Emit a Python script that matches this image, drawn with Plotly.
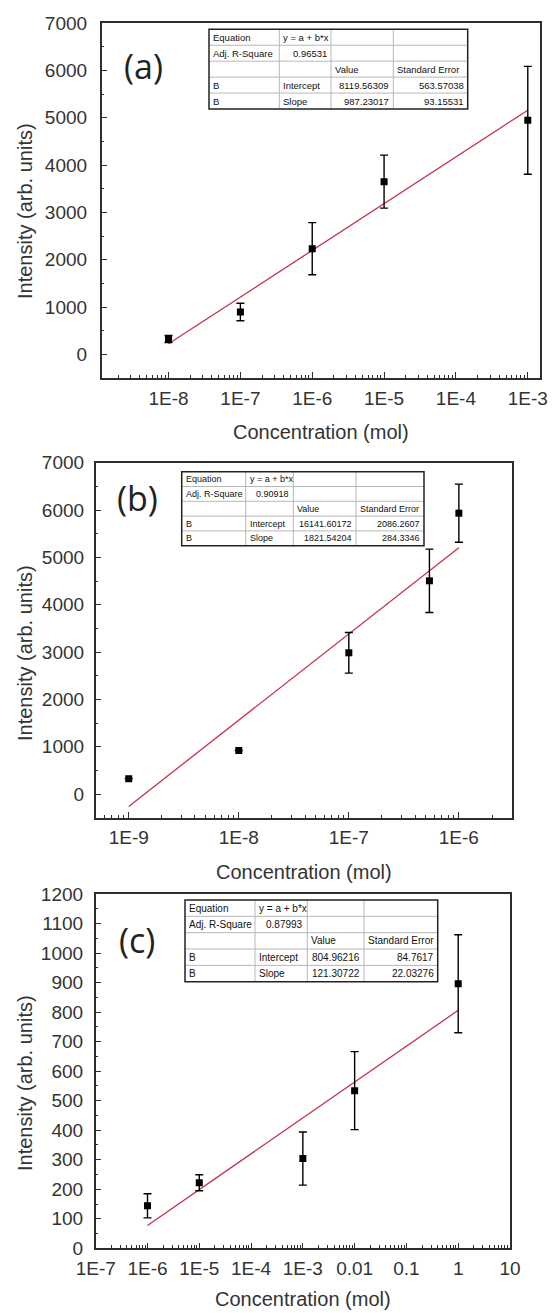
import plotly.graph_objects as go

# ---------------- data ----------------
A_X = [1e-8, 1e-7, 1e-6, 1e-5, 1e-3]
A_Y = [324, 894, 2232, 3648, 4944]
A_ERR = [75, 185, 550, 560, 1140]
A_FIT_X = [1e-8, 1e-3]
A_FIT_Y = [222, 5158]

B_X = [1e-9, 1e-8, 1e-7, 5.4e-7, 1e-6]
B_Y = [325, 919, 2984, 4505, 5933]
B_ERR = [0, 0, 430, 670, 615]
B_FIT_X = [1e-9, 1e-6]
B_FIT_Y = [-262, 5205]

C_X = [1e-6, 1e-5, 1e-3, 1e-2, 1]
C_Y = [144, 222, 304, 534, 896]
C_ERR = [41, 27, 90, 132, 166]
C_FIT_X = [1e-6, 1]
C_FIT_Y = [77, 806]

A_TICKVALS = [1e-8, 1e-7, 1e-6, 1e-5, 1e-4, 1e-3]
A_TICKTEXT = ["1E-8", "1E-7", "1E-6", "1E-5", "1E-4", "1E-3"]
B_TICKVALS = [1e-9, 1e-8, 1e-7, 1e-6]
B_TICKTEXT = ["1E-9", "1E-8", "1E-7", "1E-6"]
C_TICKVALS = [1e-7, 1e-6, 1e-5, 1e-4, 1e-3, 1e-2, 1e-1, 1, 10]
C_TICKTEXT = ["1E-7", "1E-6", "1E-5", "1E-4", "1E-3", "0.01", "0.1", "1", "10"]

TABLE_A = [["Equation", "y = a + b*x", "", ""],
           ["Adj. R-Square", "0.96531", "", ""],
           ["", "", "Value", "Standard Error"],
           ["B", "Intercept", "8119.56309", "563.57038"],
           ["B", "Slope", "987.23017", "93.15531"]]
TABLE_B = [["Equation", "y = a + b*x", "", ""],
           ["Adj. R-Square", "0.90918", "", ""],
           ["", "", "Value", "Standard Error"],
           ["B", "Intercept", "16141.60172", "2086.2607"],
           ["B", "Slope", "1821.54204", "284.3346"]]
TABLE_C = [["Equation", "y = a + b*x", "", ""],
           ["Adj. R-Square", "0.87993", "", ""],
           ["", "", "Value", "Standard Error"],
           ["B", "Intercept", "804.96216", "84.7617"],
           ["B", "Slope", "121.30722", "22.03276"]]
# alignment of each cell: l = left, r = right
TABLE_ALIGN = [["l", "l", "l", "l"],
               ["l", "r", "l", "l"],
               ["l", "l", "l", "l"],
               ["l", "l", "r", "r"],
               ["l", "l", "r", "r"]]

X_TITLE = "Concentration (mol)"
Y_TITLE = "Intensity (arb. units)"
LABELS = ["(a)", "(b)", "(c)"]

# ---------------- geometry (reference pixels) ----------------
W, H = 552, 1313


def px(x):
    return x / W


def py(y):
    return 1 - y / H


# plot boxes: left, right, top, bottom
BOXES = [(101.7, 540.0, 23.0, 378.0),
         (95.7, 511.7, 462.7, 817.7),
         (95.7, 510.0, 894.0, 1248.3)]

TEXT = "#333333"
AXC = "#2e2e2e"
FONT = "Liberation Sans, Arial, sans-serif"
RED = "#c63247"

fig = go.Figure()

series = [(A_X, A_Y, A_ERR, A_FIT_X, A_FIT_Y),
          (B_X, B_Y, B_ERR, B_FIT_X, B_FIT_Y),
          (C_X, C_Y, C_ERR, C_FIT_X, C_FIT_Y)]

for i, (xs, ys, es, fx, fy) in enumerate(series):
    xa = "x" if i == 0 else f"x{i+1}"
    ya = "y" if i == 0 else f"y{i+1}"
    fig.add_trace(go.Scatter(x=fx, y=fy, mode="lines", xaxis=xa, yaxis=ya,
                             line=dict(color=RED, width=1.3), showlegend=False,
                             hoverinfo="skip"))
    fig.add_trace(go.Scatter(x=xs, y=ys, mode="markers", xaxis=xa, yaxis=ya,
                             marker=dict(symbol="square", size=7, color="black"),
                             error_y=dict(type="data", array=es, color="black",
                                          thickness=1.4, width=4),
                             showlegend=False))
    # empty trace that carries the overlaying minor-tick x axis
    fig.add_trace(go.Scatter(x=[], y=[], xaxis=f"x{i+4}", yaxis=ya, mode="markers",
                             showlegend=False, hoverinfo="skip"))


def minor_vals(lo, hi):
    vals = []
    for d in range(lo, hi + 1):
        for k in range(2, 10):
            vals.append(k * 10.0 ** d)
    return vals


xranges = [[-8.93, -2.83], [-9.30, -5.52], [-7.0, 1.0]]
xticks = [(A_TICKVALS, A_TICKTEXT), (B_TICKVALS, B_TICKTEXT), (C_TICKVALS, C_TICKTEXT)]
xminors = [minor_vals(-9, -3), minor_vals(-10, -6), minor_vals(-7, 0)]
yranges = [[-500, 7000], [-500, 7000], [0, 1200]]
ydticks = [(1000, 500), (1000, 500), (100, 50)]
ystand = [9, 6, 7]

axis_common = dict(showgrid=False, zeroline=False, showline=True, linecolor=AXC,
                   linewidth=1.5, mirror=True, ticks="inside", ticklen=6,
                   tickwidth=1.2, tickcolor=AXC, automargin=False,
                   ticklabeloverflow="allow",
                   tickfont=dict(family=FONT, size=19, color=TEXT))

layout = dict(width=W, height=H,
              margin=dict(l=0, r=0, t=0, b=0, pad=0, autoexpand=False),
              paper_bgcolor="white", plot_bgcolor="white", showlegend=False)

for i in range(3):
    l, r, t, b = BOXES[i]
    xk = "xaxis" if i == 0 else f"xaxis{i+1}"
    yk = "yaxis" if i == 0 else f"yaxis{i+1}"
    ya = "y" if i == 0 else f"y{i+1}"
    xa = "x" if i == 0 else f"x{i+1}"
    layout[xk] = dict(axis_common, type="log", range=xranges[i], domain=[px(l), px(r)],
                      anchor=ya, tickmode="array", tickvals=xticks[i][0],
                      ticktext=xticks[i][1], ticklabelstandoff=2)
    layout[f"xaxis{i+4}"] = dict(type="log", range=xranges[i], domain=[px(l), px(r)],
                                 anchor=ya, overlaying=xa, side="bottom",
                                 showgrid=False, zeroline=False, showline=False,
                                 showticklabels=False, automargin=False,
                                 tickmode="array", tickvals=xminors[i], ticks="inside",
                                 ticklen=3, tickwidth=1, tickcolor=AXC)
    layout[yk] = dict(axis_common, range=yranges[i], domain=[py(b), py(t)], anchor=xa,
                      tick0=0, dtick=ydticks[i][0], ticklabelstandoff=ystand[i],
                      minor=dict(dtick=ydticks[i][1], tick0=0, ticks="inside",
                                 ticklen=3, tickwidth=1, tickcolor=AXC))

fig.update_layout(**layout)

# axis titles and panel labels
XT_POS = [(320.8, 431.7), (303.7, 871.7), (303.0, 1299.0)]
YT_POS = [(25.0, 211.0), (25.0, 653.0), (25.0, 1083.0)]
LB_POS = [(143.0, 66.0), (137.5, 497.5), (137.0, 940.0)]
annotations = []
for i in range(3):
    annotations.append(dict(x=px(XT_POS[i][0]), y=py(XT_POS[i][1]), xref="paper", yref="paper",
                            text=X_TITLE, showarrow=False, xanchor="center", yanchor="middle",
                            font=dict(family=FONT, size=20, color=TEXT)))
    annotations.append(dict(x=px(YT_POS[i][0]), y=py(YT_POS[i][1]), xref="paper", yref="paper",
                            text=Y_TITLE, showarrow=False, textangle=-90,
                            xanchor="center", yanchor="middle",
                            font=dict(family=FONT, size=20, color=TEXT)))
    annotations.append(dict(x=px(LB_POS[i][0]), y=py(LB_POS[i][1]), xref="paper", yref="paper",
                            text=LABELS[i], showarrow=False, xanchor="center", yanchor="middle",
                            font=dict(family="Open Sans, sans-serif", size=34, color="#222222")))

# fit-result tables
TABLES = [TABLE_A, TABLE_B, TABLE_C]
T_COLS = [[209.0, 279.3, 331.0, 393.3, 467.7],
          [181.7, 245.7, 293.3, 356.0, 424.0],
          [185.0, 255.0, 307.3, 364.0, 437.7]]
T_ROWS = [(29.3, 109.0), (471.7, 545.7), (900.0, 981.7)]
T_FONT = [9.5, 9, 10]
shapes = []
for ti, tab in enumerate(TABLES):
    cols = T_COLS[ti]
    top, bot = T_ROWS[ti]
    nrow = len(tab)
    rh = (bot - top) / nrow
    shapes.append(dict(type="rect", xref="paper", yref="paper",
                       x0=px(cols[0]), x1=px(cols[-1]), y0=py(bot), y1=py(top),
                       fillcolor="white", line=dict(width=0), layer="above"))
    for k in range(1, nrow):
        yy = py(top + k * rh)
        shapes.append(dict(type="line", xref="paper", yref="paper",
                           x0=px(cols[0]), x1=px(cols[-1]), y0=yy, y1=yy,
                           line=dict(color="#b8b8b8", width=1), layer="above"))
    for c in cols[1:-1]:
        shapes.append(dict(type="line", xref="paper", yref="paper",
                           x0=px(c), x1=px(c), y0=py(bot), y1=py(top),
                           line=dict(color="#b8b8b8", width=1), layer="above"))
    shapes.append(dict(type="rect", xref="paper", yref="paper",
                       x0=px(cols[0]), x1=px(cols[-1]), y0=py(bot), y1=py(top),
                       line=dict(color="#222222", width=1.5), layer="above"))
    for r_i, row in enumerate(tab):
        yc = py(top + (r_i + 0.5) * rh)
        for c_i, txt in enumerate(row):
            if not txt:
                continue
            if TABLE_ALIGN[r_i][c_i] == "l":
                xx, xan = px(cols[c_i] + 2), "left"
            else:
                xx, xan = px(cols[c_i + 1] - 2), "right"
            annotations.append(dict(x=xx, y=yc, xref="paper", yref="paper", text=txt,
                                    showarrow=False, xanchor=xan, yanchor="middle",
                                    font=dict(family=FONT, size=T_FONT[ti], color="#111111")))

fig.update_layout(annotations=annotations, shapes=shapes)

# the page body has a default 8px margin; remove it so the 552x1313 figure fills the window
fig.write_html("out.html", config={"displayModeBar": False},
               post_script="document.body.style.margin='0px';")
